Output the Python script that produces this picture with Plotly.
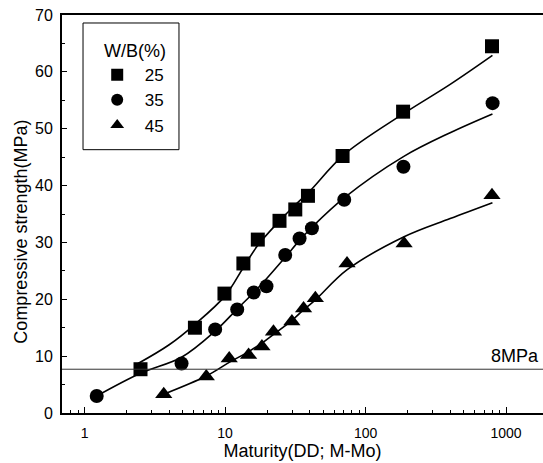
import plotly.graph_objects as go

# W/B = 25 %
wb25_x = [2.5, 6.1, 9.9, 13.5, 17.1, 24.4, 31.6, 38.9, 68.6, 185, 794]
wb25_y = [7.7, 15.0, 21.0, 26.3, 30.5, 33.8, 35.8, 38.2, 45.2, 53.0, 64.5]
# W/B = 35 %
wb35_x = [1.22, 4.9, 8.5, 12.2, 16.0, 19.7, 26.8, 33.9, 41.5, 70.5, 186, 802]
wb35_y = [3.0, 8.7, 14.7, 18.2, 21.2, 22.3, 27.8, 30.7, 32.5, 37.5, 43.3, 54.5]
# W/B = 45 %
wb45_x = [3.66, 7.35, 10.7, 14.7, 18.3, 22.1, 29.9, 36.2, 43.9, 73.8, 188, 794]
wb45_y = [3.3, 6.4, 9.6, 10.2, 11.7, 14.3, 16.1, 18.4, 20.2, 26.3, 29.8, 38.3]

# fitted curves
fit25_x = [2.4, 4.0, 6.1, 10, 13.5, 17, 24, 31, 40, 70, 185, 400, 800]
fit25_y = [8.7, 12.0, 15.6, 20.6, 25.6, 29.4, 33.6, 36.4, 39.0, 45.4, 52.6, 57.8, 62.9]
fit35_x = [1.22, 2.5, 4.9, 8.5, 12.2, 16, 20, 27, 34, 42, 70, 186, 400, 800]
fit35_y = [3.0, 7.0, 9.8, 14.4, 18.3, 21.2, 23.8, 27.5, 30.4, 32.8, 37.8, 45.1, 49.3, 52.6]
fit45_x = [3.66, 7.35, 10.7, 14.7, 18.3, 22, 30, 36, 44, 74, 188, 400, 800]
fit45_y = [3.3, 6.5, 8.9, 10.8, 12.3, 13.8, 16.3, 18.1, 19.9, 25.2, 31.0, 34.2, 37.0]

series_names = ["25", "35", "45"]
legend_title = "W/B(%)"
threshold = 7.7
threshold_label = "8MPa"
x_ticks = [1, 10, 100, 1000]
x_ticklabels = ["1", "10", "100", "1000"]

FONT = "Liberation Sans, Arial, sans-serif"

fig = go.Figure()
for fx, fy in [(fit25_x, fit25_y), (fit35_x, fit35_y), (fit45_x, fit45_y)]:
    fig.add_trace(go.Scatter(x=fx, y=fy, mode="lines", showlegend=False,
                             line=dict(color="black", width=1.6, shape="spline", smoothing=1.0),
                             hoverinfo="skip"))

for xs, ys, name, sym, sz in [(wb25_x, wb25_y, series_names[0], "square", 14),
                              (wb35_x, wb35_y, series_names[1], "circle", 14),
                              (wb45_x, wb45_y, series_names[2], "triangle-up", 15)]:
    fig.add_trace(go.Scatter(x=xs, y=ys, mode="markers", name=name,
                             marker=dict(symbol=sym, size=sz, color="black")))

# threshold line and label
fig.add_shape(type="line", xref="paper", yref="y", x0=0, x1=1, y0=threshold, y1=threshold,
              line=dict(color="#333333", width=1))
fig.add_annotation(xref="paper", yref="y", x=0.995, y=threshold, text=threshold_label,
                   showarrow=False, xanchor="right", yanchor="bottom", yshift=1,
                   font=dict(family=FONT, size=18, color="black"))

# legend frame and title
fig.add_shape(type="rect", xref="paper", yref="paper", x0=0.0437, x1=0.2432, y0=0.6616, y1=0.9799,
              line=dict(color="black", width=1), fillcolor="rgba(0,0,0,0)", layer="above")
fig.add_annotation(xref="paper", yref="paper", x=0.1528, y=0.9103, text=legend_title,
                   showarrow=False, xanchor="center", yanchor="middle",
                   font=dict(family=FONT, size=18, color="black"))

# y axis title as annotation (placed like the reference)
fig.add_annotation(xref="paper", yref="paper", x=-0.086, y=(413 - 232) / 398,
                   text="Compressive strength(MPa)", textangle=-90, showarrow=False,
                   xanchor="center", yanchor="middle",
                   font=dict(family=FONT, size=18, color="black"))

fig.update_layout(
    width=543, height=463,
    margin=dict(l=62, r=0, t=15, b=50),
    paper_bgcolor="white", plot_bgcolor="white",
    font=dict(family=FONT, color="black"),
    showlegend=True,
    legend=dict(x=0.0576, y=0.894, xanchor="left", yanchor="top",
                borderwidth=0, bgcolor="rgba(0,0,0,0)",
                font=dict(size=17, family=FONT), itemsizing="constant",
                itemwidth=45, tracegroupgap=0),
    xaxis=dict(type="log", range=[-0.1608, 3.263], showline=True, linewidth=2, linecolor="black",
               mirror=True, showgrid=False, zeroline=False,
               tickvals=x_ticks, ticktext=x_ticklabels, ticks="inside", ticklen=6, tickwidth=1,
               tickcolor="black", tickfont=dict(size=14, family=FONT), ticklabelstandoff=6,
               minor=dict(ticks="inside", ticklen=3, tickwidth=1, tickcolor="black", dtick="D1", showgrid=False),
               title=dict(text="Maturity(DD; M-Mo)", font=dict(size=18, family=FONT), standoff=5)),
    yaxis=dict(range=[0, 70], showline=True, linewidth=2, linecolor="black", mirror=False,
               showgrid=False, zeroline=False, dtick=10, ticks="inside", ticklen=5, tickwidth=1,
               tickcolor="black", tickfont=dict(size=16, family=FONT), ticklabelstandoff=4,
               minor=dict(ticks="inside", ticklen=3, tickwidth=1, tickcolor="black", dtick=5, showgrid=False)),
)

fig.write_html("out.html")
